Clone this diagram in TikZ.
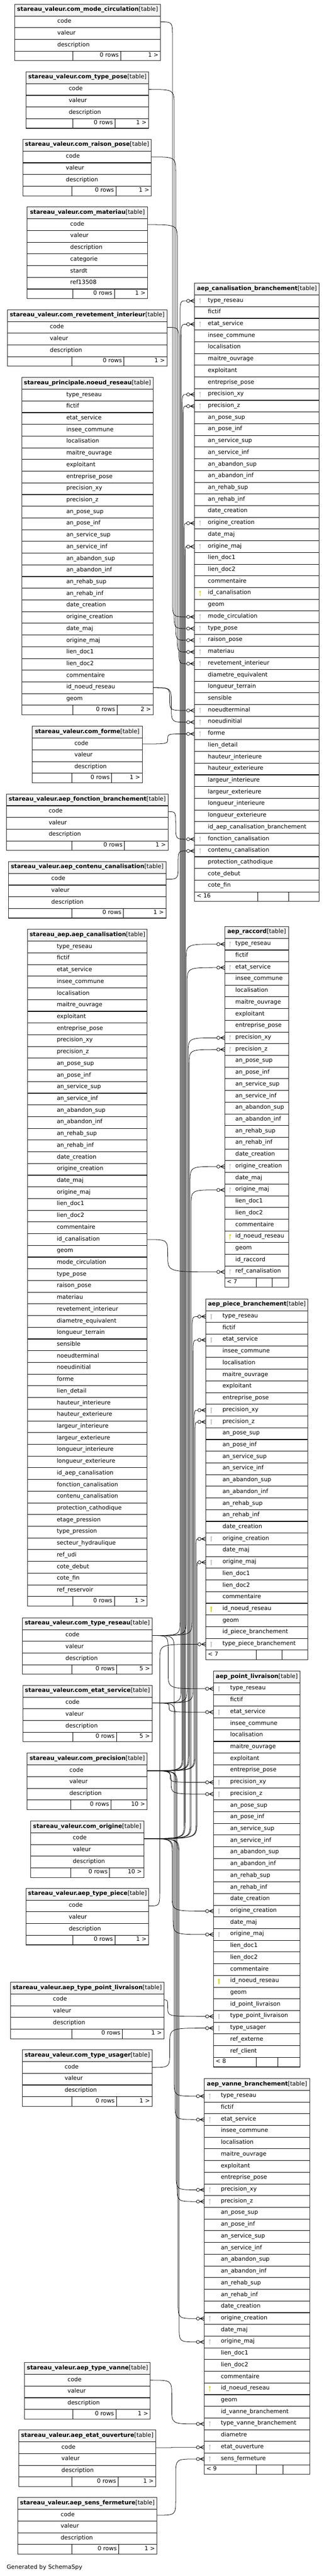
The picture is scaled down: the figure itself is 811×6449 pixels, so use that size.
\documentclass[tikz,border=0pt]{standalone}
\usepackage{fontspec}
\setmainfont{DejaVu Sans}
\usetikzlibrary{calc}
\definecolor{keygrey}{HTML}{C4C4C4}
\definecolor{keyyel}{HTML}{D6D600}
\definecolor{titlegray}{HTML}{F4F4F4}
\newcommand\tabfont{\fontsize{14.5}{17}\selectfont}
\tikzset{
  coltext/.style={anchor=mid west, inner sep=0pt, font=\tabfont},
  titletext/.style={anchor=mid, inner sep=0pt, font=\tabfont},
  foottext/.style={inner sep=0pt, font=\tabfont},
  sep/.style={line width=1.4pt, draw=black},
  border/.style={line width=1.4pt, draw=black!85},
  titlefill/.style={fill=titlegray},
  fkline/.style={line width=1pt, draw=black},
  crow/.style={line width=1.2pt, draw=black},
}
% left (lookup) table
\newcommand\ltab[8]{%
  \fill[titlefill] (#2,-#4) rectangle (#3,{-#4-29.5});
  \node[titletext] (#1) at ({(#2+#3)/2},{-#4-14.75}) {\textbf{#6}[table]};
  \foreach \rn [count=\cnum] in {#7}{%
    \pgfmathsetmacro\ya{-#4-29.5-(\cnum-1)*29.3}%
    \pgfmathsetmacro\yc{\ya-14.65}%
    \draw[sep] (#2,\ya) -- (#3,\ya);
    \node[coltext] (#1-\rn-t) at (#5,\yc) {\rn};
    \coordinate (#1-\rn) at (#3,\yc);
    \xdef\nrows{\cnum}%
  }
  \pgfmathsetmacro\yf{-#4-29.5-\nrows*29.3}%
  \pgfmathsetmacro\yb{\yf-24}%
  \draw[sep] (#2,\yf) -- (#3,\yf);
  \foreach \da/\db/\fcnt in {#8}{%
    \draw[sep] (\da,\yf) -- (\da,\yb);
    \draw[sep] (\db,\yf) -- (\db,\yb);
    \node[foottext,anchor=mid east] (#1-rows) at ({\db-5},{\yf-12}) {0 rows};
    \node[foottext,anchor=mid east] (#1-cnt) at ({#3-5},{\yf-12}) {\fcnt};
  }
  \draw[border] (#2,-#4) rectangle (#3,\yb);
}
% right (main) table
\newcommand\rtab[8]{%
  \fill[titlefill] (#2,-#4) rectangle (#3,{-#4-29.5});
  \node[titletext] (#1) at ({(#2+#3)/2},{-#4-14.75}) {\textbf{#6}[table]};
  \foreach \rn [count=\cnum] in {#7}{%
    \pgfmathsetmacro\ya{-#4-29.5-(\cnum-1)*29.3}%
    \pgfmathsetmacro\yc{\ya-14.65}%
    \draw[sep] (#2,\ya) -- (#3,\ya);
    \node[coltext] (#1-\rn-t) at (#5,\yc) {\rn};
    \coordinate (#1-\rn) at (#2,\yc);
    \xdef\nrows{\cnum}%
  }
  \pgfmathsetmacro\yf{-#4-29.5-\nrows*29.3}%
  \pgfmathsetmacro\yb{\yf-24}%
  \draw[sep] (#2,\yf) -- (#3,\yf);
  \foreach \da/\db/\flab in {#8}{%
    \draw[sep] (\da,\yf) -- (\da,\yb);
    \draw[sep] (\db,\yf) -- (\db,\yb);
    \node[foottext,anchor=mid west] (#1-cnt) at ({#2+5},{\yf-12}) {\flab};
  }
  \draw[border] (#2,-#4) rectangle (#3,\yb);
}
\newcommand\drawkeys[3]{%
  \foreach \kn in {#3}{%
    \fill[#2] ([shift={(13.6,4.5)}]#1-\kn) circle (2.4);
    \draw[#2, line width=1.5pt] ([shift={(13.6,3)}]#1-\kn) -- ([shift={(13.6,-7)}]#1-\kn);
  }
}
\newcommand\fkey[3]{%
  \draw[fkline] let \p1=(#1), \p2=(#2), \n1={sign((\y2)-(\y1))*min(40,abs((\y2)-(\y1))/2)} in
    (\p1) .. controls (#3,\y1) .. ({#3},{\y1+(\n1)}) -- ({#3},{\y2-(\n1)}) .. controls (#3,\y2) .. ({\x2-20},\y2);
  \draw[crow] let \p2=(#2) in ({\x2-11},\y2) -- (\x2,{\y2+5}) ({\x2-11},\y2) -- (\x2,\y2) ({\x2-11},\y2) -- (\x2,{\y2-5});
  \draw[fkline, fill=white] let \p2=(#2) in ({\x2-16},\y2) circle (4);
}
\catcode`\_=12
\begin{document}
\begin{tikzpicture}[x=1pt,y=1pt]
\fill[white] (0,0) rectangle (811,-6449);
\useasboundingbox (0,0) rectangle (811,-6449);

% ---------- left tables ----------
\ltab{T1}{36.4}{402}{10.7}{143.5}{stareau_valeur.com_mode_circulation}{code, valeur, description}{182/302.6/1 >}
\ltab{T2}{65.5}{372.3}{179.8}{172}{stareau_valeur.com_type_pose}{code, valeur, description}{182/288/1 >}
\ltab{T3}{57.2}{379}{348.8}{164.8}{stareau_valeur.com_raison_pose}{code, valeur, description}{180.4/290.7/1 >}
\ltab{T4}{68.1}{369.7}{518.3}{175.8}{stareau_valeur.com_materiau}{code, valeur, description, categorie, stardt, ref13508}{182/286.5/1 >}
\ltab{T5}{18.7}{418}{775.5}{124.8}{stareau_valeur.com_revetement_interieur}{code, valeur, description}{180.4/310.5/1 >}
\ltab{T6}{54.6}{383.3}{945}{165.9}{stareau_principale.noeud_reseau}{type_reseau, fictif, etat_service, insee_commune, localisation, maitre_ouvrage, exploitant, entreprise_pose, precision_xy, precision_z, an_pose_sup, an_pose_inf, an_service_sup, an_service_inf, an_abandon_sup, an_abandon_inf, an_rehab_sup, an_rehab_inf, date_creation, origine_creation, date_maj, origine_maj, lien_doc1, lien_doc2, commentaire, id_noeud_reseau, geom}{182/293.3/2 >}
\ltab{T7}{80.6}{356.2}{1818.3}{186.2}{stareau_valeur.com_forme}{code, valeur, description}{180.4/279.8/1 >}
\ltab{T8}{16.1}{420.7}{1987.7}{121.7}{stareau_valeur.aep_fonction_branchement}{code, valeur, description}{180.4/312/1 >}
\ltab{T9}{21.3}{415.5}{2157}{128.4}{stareau_valeur.aep_contenu_canalisation}{code, valeur, description}{180.4/309.4/1 >}
\ltab{T10}{69.2}{368.7}{2326.5}{142}{stareau_aep.aep_canalisation}{type_reseau, fictif, etat_service, insee_commune, localisation, maitre_ouvrage, exploitant, entreprise_pose, precision_xy, precision_z, an_pose_sup, an_pose_inf, an_service_sup, an_service_inf, an_abandon_sup, an_abandon_inf, an_rehab_sup, an_rehab_inf, date_creation, origine_creation, date_maj, origine_maj, lien_doc1, lien_doc2, commentaire, id_canalisation, geom, mode_circulation, type_pose, raison_pose, materiau, revetement_interieur, diametre_equivalent, longueur_terrain, sensible, noeudterminal, noeudinitial, forme, lien_detail, hauteur_interieure, hauteur_exterieure, largeur_interieure, largeur_exterieure, longueur_interieure, longueur_exterieure, id_aep_canalisation, fonction_canalisation, contenu_canalisation, protection_cathodique, etage_pression, type_pression, secteur_hydraulique, ref_udi, cote_debut, cote_fin, ref_reservoir}{182/286.5/1 >}
\ltab{T11}{56.2}{380.7}{4050.3}{163.8}{stareau_valeur.com_type_reseau}{code, valeur, description}{180.4/292.3/5 >}
\ltab{T12}{57.2}{380.7}{4219.3}{163.8}{stareau_valeur.com_etat_service}{code, valeur, description}{182/292.3/5 >}
\ltab{T13}{68.1}{368.7}{4389}{173.7}{stareau_valeur.com_precision}{code, valeur, description}{176.8/278.2/10 >}
\ltab{T14}{76.4}{360.4}{4558.7}{182}{stareau_valeur.com_origine}{code, valeur, description}{176.8/274.6/10 >}
\ltab{T15}{65.5}{372.3}{4727.5}{172}{stareau_valeur.aep_type_piece}{code, valeur, description}{182/288/1 >}
\ltab{T16}{26.5}{410.3}{4962.5}{132.6}{stareau_valeur.aep_type_point_livraison}{code, valeur, description}{180.4/306.8/1 >}
\ltab{T17}{56.2}{380.7}{5131.6}{161.7}{stareau_valeur.com_type_usager}{code, valeur, description}{180.4/292.3/1 >}
\ltab{T18}{61.4}{376.5}{5914.5}{169}{stareau_valeur.aep_type_vanne}{code, valeur, description}{182/290.7/1 >}
\ltab{T19}{46.8}{390}{6083.6}{153.9}{stareau_valeur.aep_etat_ouverture}{code, valeur, description}{180.4/295.9/1 >}
\ltab{T20}{44.2}{393.1}{6252.6}{151.8}{stareau_valeur.aep_sens_fermeture}{code, valeur, description}{180.4/297.5/1 >}

% ---------- right tables ----------
\rtab{R1}{487.2}{799.3}{709}{520.5}{aep_canalisation_branchement}{type_reseau, fictif, etat_service, insee_commune, localisation, maitre_ouvrage, exploitant, entreprise_pose, precision_xy, precision_z, an_pose_sup, an_pose_inf, an_service_sup, an_service_inf, an_abandon_sup, an_abandon_inf, an_rehab_sup, an_rehab_inf, date_creation, origine_creation, date_maj, origine_maj, lien_doc1, lien_doc2, commentaire, id_canalisation, geom, mode_circulation, type_pose, raison_pose, materiau, revetement_interieur, diametre_equivalent, longueur_terrain, sensible, noeudterminal, noeudinitial, forme, lien_detail, hauteur_interieure, hauteur_exterieure, largeur_interieure, largeur_exterieure, longueur_interieure, longueur_exterieure, id_aep_canalisation_branchement, fonction_canalisation, contenu_canalisation, protection_cathodique, cote_debut, cote_fin}{646/723/< 16}
\rtab{R2}{562.7}{722.8}{2319.6}{589.2}{aep_raccord}{type_reseau, fictif, etat_service, insee_commune, localisation, maitre_ouvrage, exploitant, entreprise_pose, precision_xy, precision_z, an_pose_sup, an_pose_inf, an_service_sup, an_service_inf, an_abandon_sup, an_abandon_inf, an_rehab_sup, an_rehab_inf, date_creation, origine_creation, date_maj, origine_maj, lien_doc1, lien_doc2, commentaire, id_noeud_reseau, geom, id_raccord, ref_canalisation}{641.2/681.2/< 7}
\rtab{R3}{515.3}{771.2}{3251.8}{557}{aep_piece_branchement}{type_reseau, fictif, etat_service, insee_commune, localisation, maitre_ouvrage, exploitant, entreprise_pose, precision_xy, precision_z, an_pose_sup, an_pose_inf, an_service_sup, an_service_inf, an_abandon_sup, an_abandon_inf, an_rehab_sup, an_rehab_inf, date_creation, origine_creation, date_maj, origine_maj, lien_doc1, lien_doc2, commentaire, id_noeud_reseau, geom, id_piece_branchement, type_piece_branchement}{641.2/705.7/< 7}
\rtab{R4}{534.6}{751}{4183.5}{576.2}{aep_point_livraison}{type_reseau, fictif, etat_service, insee_commune, localisation, maitre_ouvrage, exploitant, entreprise_pose, precision_xy, precision_z, an_pose_sup, an_pose_inf, an_service_sup, an_service_inf, an_abandon_sup, an_abandon_inf, an_rehab_sup, an_rehab_inf, date_creation, origine_creation, date_maj, origine_maj, lien_doc1, lien_doc2, commentaire, id_noeud_reseau, geom, id_point_livraison, type_point_livraison, type_usager, ref_externe, ref_client}{641.2/695.8/< 8}
\rtab{R5}{511.7}{775.3}{5203.6}{552.8}{aep_vanne_branchement}{type_reseau, fictif, etat_service, insee_commune, localisation, maitre_ouvrage, exploitant, entreprise_pose, precision_xy, precision_z, an_pose_sup, an_pose_inf, an_service_sup, an_service_inf, an_abandon_sup, an_abandon_inf, an_rehab_sup, an_rehab_inf, date_creation, origine_creation, date_maj, origine_maj, lien_doc1, lien_doc2, commentaire, id_noeud_reseau, geom, id_vanne_branchement, type_vanne_branchement, diametre, etat_ouverture, sens_fermeture}{641.2/708.3/< 9}

% ---------- keys ----------
\drawkeys{R1}{keygrey}{type_reseau, etat_service, precision_xy, precision_z, origine_creation, origine_maj, mode_circulation, type_pose, raison_pose, materiau, revetement_interieur, noeudterminal, noeudinitial, forme, fonction_canalisation, contenu_canalisation}
\drawkeys{R1}{keyyel}{id_canalisation}
\drawkeys{R2}{keygrey}{type_reseau, etat_service, precision_xy, precision_z, origine_creation, origine_maj, ref_canalisation}
\drawkeys{R2}{keyyel}{id_noeud_reseau}
\drawkeys{R3}{keygrey}{type_reseau, etat_service, precision_xy, precision_z, origine_creation, origine_maj, type_piece_branchement}
\drawkeys{R3}{keyyel}{id_noeud_reseau}
\drawkeys{R4}{keygrey}{type_reseau, etat_service, precision_xy, precision_z, origine_creation, origine_maj, type_point_livraison, type_usager}
\drawkeys{R4}{keyyel}{id_noeud_reseau}
\drawkeys{R5}{keygrey}{type_reseau, etat_service, precision_xy, precision_z, origine_creation, origine_maj, type_vanne_branchement, etat_ouverture, sens_fermeture}
\drawkeys{R5}{keyyel}{id_noeud_reseau}

% ---------- connectors to R1 ----------
\fkey{T1-code}{R1-mode_circulation}{432}
\fkey{T2-code}{R1-type_pose}{436}
\fkey{T3-code}{R1-raison_pose}{440}
\fkey{T4-code}{R1-materiau}{444}
\fkey{T5-code}{R1-revetement_interieur}{448}
\fkey{T6-id_noeud_reseau}{R1-noeudterminal}{425}
\fkey{T6-id_noeud_reseau}{R1-noeudinitial}{429}
\fkey{T7-code}{R1-forme}{420}
\fkey{T8-code}{R1-fonction_canalisation}{440}
\fkey{T9-code}{R1-contenu_canalisation}{446}
\fkey{T11-code}{R1-type_reseau}{451}
\fkey{T12-code}{R1-etat_service}{453.5}
\fkey{T13-code}{R1-precision_xy}{456}
\fkey{T13-code}{R1-precision_z}{458.5}
\fkey{T14-code}{R1-origine_creation}{461}
\fkey{T14-code}{R1-origine_maj}{463.5}
% ---------- connectors to R2 ----------
\fkey{T11-code}{R2-type_reseau}{466}
\fkey{T12-code}{R2-etat_service}{468.5}
\fkey{T13-code}{R2-precision_xy}{471}
\fkey{T13-code}{R2-precision_z}{473.5}
\fkey{T14-code}{R2-origine_creation}{476}
\fkey{T14-code}{R2-origine_maj}{478.5}
\fkey{T10-id_canalisation}{R2-ref_canalisation}{420}
% ---------- connectors to R3 ----------
\fkey{T11-code}{R3-type_reseau}{481}
\fkey{T12-code}{R3-etat_service}{483.5}
\fkey{T13-code}{R3-precision_xy}{486}
\fkey{T13-code}{R3-precision_z}{488.5}
\fkey{T14-code}{R3-origine_creation}{491}
\fkey{T14-code}{R3-origine_maj}{493}
\fkey{T15-code}{R3-type_piece_branchement}{400}
% ---------- connectors to R4 ----------
\fkey{T11-code}{R4-type_reseau}{421}
\fkey{T12-code}{R4-etat_service}{423.5}
\fkey{T13-code}{R4-precision_xy}{426}
\fkey{T13-code}{R4-precision_z}{428.5}
\fkey{T14-code}{R4-origine_creation}{431}
\fkey{T14-code}{R4-origine_maj}{433.5}
\fkey{T16-code}{R4-type_point_livraison}{420}
\fkey{T17-code}{R4-type_usager}{425}
% ---------- connectors to R5 ----------
\fkey{T11-code}{R5-type_reseau}{436}
\fkey{T12-code}{R5-etat_service}{438.5}
\fkey{T13-code}{R5-precision_xy}{441}
\fkey{T13-code}{R5-precision_z}{443.5}
\fkey{T14-code}{R5-origine_creation}{446}
\fkey{T14-code}{R5-origine_maj}{448.5}
\fkey{T18-code}{R5-type_vanne_branchement}{430}
\fkey{T19-code}{R5-etat_ouverture}{430}
\fkey{T20-code}{R5-sens_fermeture}{440}

\node[anchor=mid west, inner sep=0pt, font=\tabfont] (gen) at (16.6,-6428.6) {Generated by SchemaSpy};
\end{tikzpicture}
\end{document}
